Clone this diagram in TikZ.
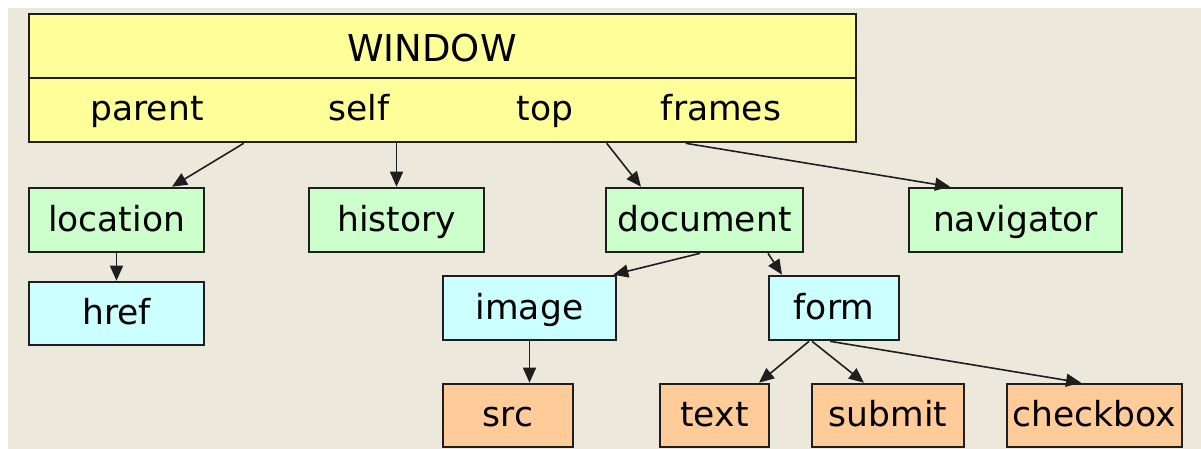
\documentclass[tikz,border=0pt]{standalone}
\usepackage{fontspec}
\setmainfont{DejaVu Sans}
\usetikzlibrary{arrows.meta}
\definecolor{bg}{HTML}{ECE9DC}
\definecolor{winyel}{HTML}{FFFF99}
\definecolor{grn}{HTML}{CCFFCC}
\definecolor{cyn}{HTML}{CCFFFF}
\definecolor{org}{HTML}{FFCC99}
\definecolor{edge}{HTML}{1E1E1E}
\begin{document}
\begin{tikzpicture}[x=1pt,y=-1pt,
  box/.style={draw=edge, line width=2.6pt, rectangle, inner sep=0pt, minimum height=64pt,
    text height=26pt, text depth=4pt, font=\fontsize{34.5}{40}\selectfont},
  gbox/.style={box, fill=grn},
  bbox/.style={box, fill=cyn},
  obox/.style={box, fill=org, minimum height=63pt},
  conn/.style={draw=edge, line width=1.6pt, -{Triangle[length=15pt,width=13pt]}},
  lbl/.style={font=\fontsize{34.5}{40}\selectfont, inner sep=0pt, anchor=base}
]
\useasboundingbox (0,0) rectangle (1201,449);
\fill[white] (0,0) rectangle (1201,449);
\fill[bg] (8,8) rectangle (1201,449);

% WINDOW box
\node[draw=edge, line width=2.6pt, fill=winyel, minimum width=827pt, minimum height=128pt, inner sep=0pt] (win) at (442.5,78) {};
\draw[edge, line width=2.6pt] (win.west) -- (win.east);
\node[lbl, font=\fontsize{37}{44}\selectfont] (wt) at (432,62) {WINDOW};
\node[lbl] (parent) at (147,121) {parent};
\node[lbl] (self) at (359,121) {self};
\node[lbl] (top) at (545,121) {top};
\node[lbl] (frames) at (721,121) {frames};

% second row
\node[gbox, minimum width=175pt] (loc) at (116.5,220) {location};
\node[gbox, minimum width=175pt] (hist) at (396.5,220) {history};
\node[gbox, minimum width=197pt] (doc) at (704.5,220) {document};
\node[gbox, minimum width=213pt] (nav) at (1015.5,220) {navigator};

% third row
\node[bbox, minimum width=175pt, minimum height=63pt] (href) at (116.5,313.5) {href};
\node[bbox, minimum width=173pt] (img) at (529.5,308) {image};
\node[bbox, minimum width=130pt] (form) at (834,308) {form};

% fourth row
\node[obox, minimum width=130pt] (src) at (508,415.5) {src};
\node[obox, minimum width=109pt] (txt) at (714.5,415.5) {text};
\node[obox, minimum width=152pt] (sub) at (888,415.5) {submit};
\node[obox, minimum width=175pt] (chk) at (1094.5,415.5) {checkbox};

% connectors
\draw[conn] ([xshift=216pt]win.south west) -- ([xshift=55.5pt]loc.north);
\draw[conn] (hist.north |- win.south) -- (hist.north);
\draw[conn] ([xshift=579pt]win.south west) -- ([xshift=-63.5pt]doc.north);
\draw[conn] ([xshift=658pt]win.south west) -- ([xshift=-65.5pt]nav.north);
\draw[conn] (loc.south) -- (href.north);
\draw[conn] ([xshift=-4.5pt]doc.south) -- ([xshift=-4pt]img.north east);
\draw[conn] ([xshift=63.5pt]doc.south) -- ([xshift=-52pt]form.north);
\draw[conn] (img.south) -- (img.south |- src.north);
\draw[conn] ([xshift=-25pt]form.south) -- ([xshift=44.5pt]txt.north);
\draw[conn] ([xshift=-22pt]form.south) -- ([xshift=-24pt]sub.north);
\draw[conn] ([xshift=-4pt]form.south) -- ([xshift=-13.5pt]chk.north);
\end{tikzpicture}
\end{document}
